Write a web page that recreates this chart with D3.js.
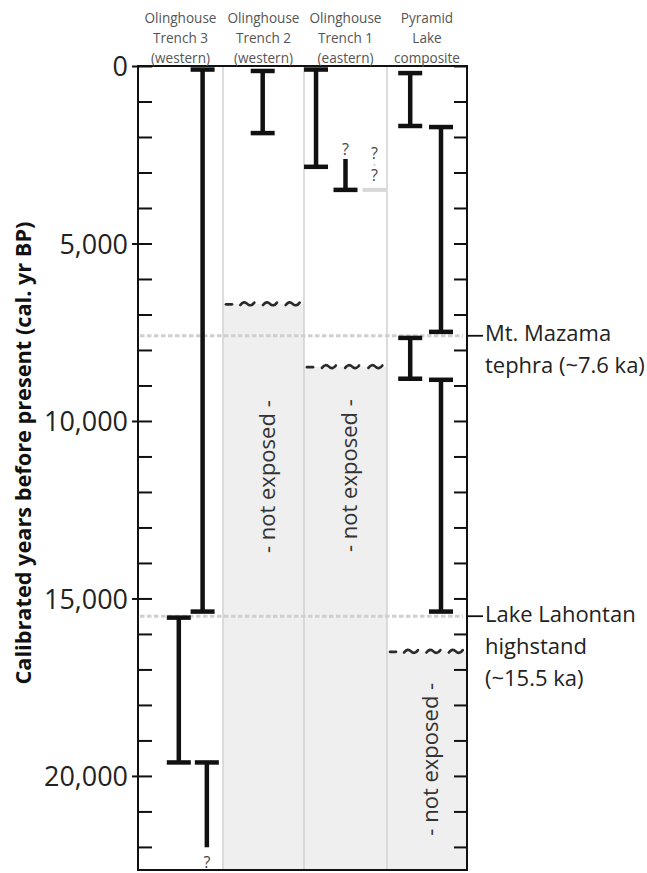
<!DOCTYPE html>
<html>
<head>
<meta charset="utf-8">
<script src="https://cdn.jsdelivr.net/npm/d3@7/dist/d3.min.js"></script>
<style>
  html, body { margin: 0; padding: 0; background: #fff; }
  svg { display: block; font-family: "Open Sans", "Noto Sans", sans-serif; }
</style>
</head>
<body>
<svg id="chart" width="647" height="873"></svg>
<script>
// ---------------- DATA ----------------
const columnLabels = [
  ["Olinghouse", "Trench 3", "(western)"],
  ["Olinghouse", "Trench 2", "(western)"],
  ["Olinghouse", "Trench 1", "(eastern)"],
  ["Pyramid", "Lake", "composite"]
];
// lane positions within each column (track index)
const laneFractions = [
  [0.48, 0.76, 0.81],
  [0.49],
  [0.145, 0.5, 0.85],
  [0.29, 0.675]
];
// intervals: column, lane, start (yr BP), end (yr BP), caps
const intervalCols   = [0, 0, 0, 1, 2, 2, 3, 3, 3, 3];
const intervalLanes  = [1, 0, 2, 0, 0, 1, 0, 1, 0, 1];
const intervalStart  = [100, 15540, 19620, 140, 100, 2620, 200, 1720, 7660, 8840];
const intervalEnd    = [15370, 19620, 22010, 1890, 2840, 3490, 1690, 7490, 8810, 15370];
const intervalTopCap = [true, true, true, true, true, false, true, true, true, true];
const intervalBotCap = [true, true, false, true, true, true, true, true, true, true];

// uncertain (ghost) record in Trench 1
const ghostCol = 2, ghostLane = 2, ghostEnd = 3490;
// question marks: column, lane, value
const queryCols   = [0, 2, 2, 2];
const queryLanes  = [2, 1, 2, 2];
const queryValues = [22420, 2350, 2460, 3080];

// not-exposed sections: column, top of unexposed interval, label centre
const notExposedCols    = [1, 2, 3];
const notExposedTop     = [6700, 8470, 16490];
const notExposedLabelAt = [11570, 11540, 19530];

// reference horizons
const refValues = [7600, 15500];
const refLabels = [
  ["Mt. Mazama", "tephra (~7.6 ka)"],
  ["Lake Lahontan", "highstand", "(~15.5 ka)"]
];

const yDomainMax = 22650;
const tickValues = d3.range(0, 23000, 1000);
const yTitle = "Calibrated years before present (cal. yr BP)";

// ---------------- CHART ----------------
const svg = d3.select("#chart");
const plotTop = 66, plotBottom = 870;
const y = d3.scaleLinear().domain([0, yDomainMax]).range([plotTop, plotBottom]);
const xCol = d3.scaleLinear().domain([0, 1, 2, 3, 4]).range([138, 223, 304, 387, 467]);
const plotLeft = xCol(0), plotRight = xCol(4);
const laneX = (c, l) => xCol(c + laneFractions[c][l]);

// scale the font of a selection so that a reference node has the target width
function fitFont(sel, refNode, target) {
  const w = refNode.getComputedTextLength();
  const k = target / w;
  sel.each(function () {
    const fs = parseFloat(d3.select(this).attr("font-size"));
    d3.select(this).attr("font-size", fs * k);
  });
}

// not exposed fill
const ne = svg.append("g");
notExposedCols.forEach((c, i) => {
  ne.append("rect")
    .attr("x", xCol(c)).attr("y", y(notExposedTop[i]))
    .attr("width", xCol(c + 1) - xCol(c))
    .attr("height", plotBottom - y(notExposedTop[i]))
    .attr("fill", "#efefef");
});

// column dividers
svg.append("g").selectAll("line").data([1, 2, 3]).join("line")
  .attr("x1", d => xCol(d)).attr("x2", d => xCol(d))
  .attr("y1", plotTop).attr("y2", plotBottom)
  .attr("stroke", "#d2d2d2").attr("stroke-width", 1.5);

// reference dashed lines
svg.append("g").selectAll("line").data(refValues).join("line")
  .attr("x1", plotLeft + 2).attr("x2", plotRight - 4)
  .attr("y1", d => y(d)).attr("y2", d => y(d))
  .attr("stroke", "#cfcfcf").attr("stroke-width", 3)
  .attr("stroke-dasharray", "4.5,2.5");

// tildes + dash for unconformity
const tg = svg.append("g").attr("fill", "none").attr("stroke", "#2a2a2a")
  .attr("stroke-width", 2.6).attr("stroke-linecap", "round");
notExposedCols.forEach((c, i) => {
  const yy = y(notExposedTop[i]);
  const x0 = xCol(c), w = xCol(c + 1) - xCol(c);
  tg.append("line").attr("x1", x0 + 3).attr("x2", x0 + 9)
    .attr("y1", yy + 0.5).attr("y2", yy + 0.5);
  [0.3, 0.58, 0.86].forEach(f => {
    const cx = x0 + f * w;
    tg.append("path").attr("d",
      `M${cx - 7},${yy + 1.2} Q${cx - 3.5},${yy - 3.5} ${cx},${yy} Q${cx + 3.5},${yy + 3.5} ${cx + 7},${yy - 1.2}`);
  });
});

// not exposed labels
const neLabels = svg.append("g").selectAll("text").data(notExposedCols).join("text")
  .attr("transform", (c, i) => `translate(${(xCol(c) + xCol(c + 1)) / 2 + 2},${y(notExposedLabelAt[i])}) rotate(-90)`)
  .attr("text-anchor", "middle").attr("dominant-baseline", "central")
  .attr("font-size", 18).attr("fill", "#333")
  .text("- not exposed -");
fitFont(neLabels, neLabels.node(), 153);

// intervals (I-beams)
const capW = 24;
const ig = svg.append("g").attr("stroke", "#111").attr("stroke-width", 4.5);
intervalCols.forEach((c, i) => {
  const x = laneX(c, intervalLanes[i]);
  const y0 = y(intervalStart[i]), y1 = y(intervalEnd[i]);
  ig.append("line").attr("x1", x).attr("x2", x).attr("y1", y0).attr("y2", y1);
  if (intervalTopCap[i])
    ig.append("line").attr("x1", x - capW / 2).attr("x2", x + capW / 2).attr("y1", y0).attr("y2", y0);
  if (intervalBotCap[i])
    ig.append("line").attr("x1", x - capW / 2).attr("x2", x + capW / 2).attr("y1", y1).attr("y2", y1);
});
// ghost cap
{
  const x = laneX(ghostCol, ghostLane);
  svg.append("line").attr("x1", x - 12).attr("x2", x + 12)
    .attr("y1", y(ghostEnd)).attr("y2", y(ghostEnd))
    .attr("stroke", "#d8d8d8").attr("stroke-width", 4);
  svg.append("line").attr("x1", x).attr("x2", x)
    .attr("y1", y(2750)).attr("y2", y(2820))
    .attr("stroke", "#d8d8d8").attr("stroke-width", 2);
}
// question marks
svg.append("g").selectAll("text").data(queryValues).join("text")
  .attr("x", (d, i) => laneX(queryCols[i], queryLanes[i]))
  .attr("y", d => y(d))
  .attr("text-anchor", "middle").attr("dominant-baseline", "central")
  .attr("font-size", 16).attr("fill", "#444")
  .text("?");

// axes
const leftAxis = d3.axisLeft(y).tickValues(tickValues)
  .tickSizeInner(-14).tickSizeOuter(0).tickPadding(10)
  .tickFormat(d => d % 5000 === 0 ? d3.format(",")(d) : "");
const gl = svg.append("g").attr("transform", `translate(${plotLeft},0)`).call(leftAxis);
gl.select(".domain").remove();
gl.selectAll(".tick line").attr("stroke", "#111").attr("stroke-width", 2)
  .attr("x1", d => d % 5000 === 0 ? -6 : 0);
const tickTexts = gl.selectAll(".tick text").attr("font-size", 26).attr("fill", "#222")
  .attr("font-family", "'Open Sans', sans-serif").attr("dy", "0.36em");
fitFont(tickTexts, tickTexts.filter(d => d === 10000).node(), 84);

const rightAxis = d3.axisRight(y).tickValues(tickValues)
  .tickSizeInner(-13).tickSizeOuter(0).tickFormat("");
const gr = svg.append("g").attr("transform", `translate(${plotRight},0)`).call(rightAxis);
gr.select(".domain").remove();
gr.selectAll(".tick line").attr("stroke", "#111").attr("stroke-width", 2);

// frame
svg.append("rect").attr("x", plotLeft).attr("y", plotTop)
  .attr("width", plotRight - plotLeft).attr("height", plotBottom - plotTop)
  .attr("fill", "none").attr("stroke", "#111").attr("stroke-width", 2);

// reference leaders & labels
const refTexts = [];
refValues.forEach((v, i) => {
  const yy = y(v);
  svg.append("line").attr("x1", plotRight).attr("x2", plotRight + 16)
    .attr("y1", yy).attr("y2", yy).attr("stroke", "#111").attr("stroke-width", 1.8);
  refLabels[i].forEach((s, j) => {
    refTexts.push(svg.append("text").attr("x", plotRight + 18).attr("y", yy - 3 + j * 32)
      .attr("font-size", 20).attr("fill", "#222").attr("dominant-baseline", "central")
      .text(s).node());
  });
});
fitFont(d3.selectAll(refTexts), refTexts[1], 160);

// column header labels
const headerTexts = [];
columnLabels.forEach((lines, c) => {
  const cx = (xCol(c) + xCol(c + 1)) / 2;
  lines.forEach((s, j) => {
    headerTexts.push(svg.append("text").attr("x", cx).attr("y", 17 + j * 20)
      .attr("text-anchor", "middle").attr("dominant-baseline", "central")
      .attr("font-size", 13).attr("fill", "#555").text(s).node());
  });
});
fitFont(d3.selectAll(headerTexts), headerTexts[0], 72);

// y title
const title = svg.append("text")
  .attr("transform", `translate(22,453) rotate(-90)`)
  .attr("text-anchor", "middle").attr("dominant-baseline", "central")
  .attr("font-size", 18).attr("font-weight", "bold").attr("fill", "#111")
  .text(yTitle);
fitFont(title, title.node(), 463);
</script>
</body>
</html>
